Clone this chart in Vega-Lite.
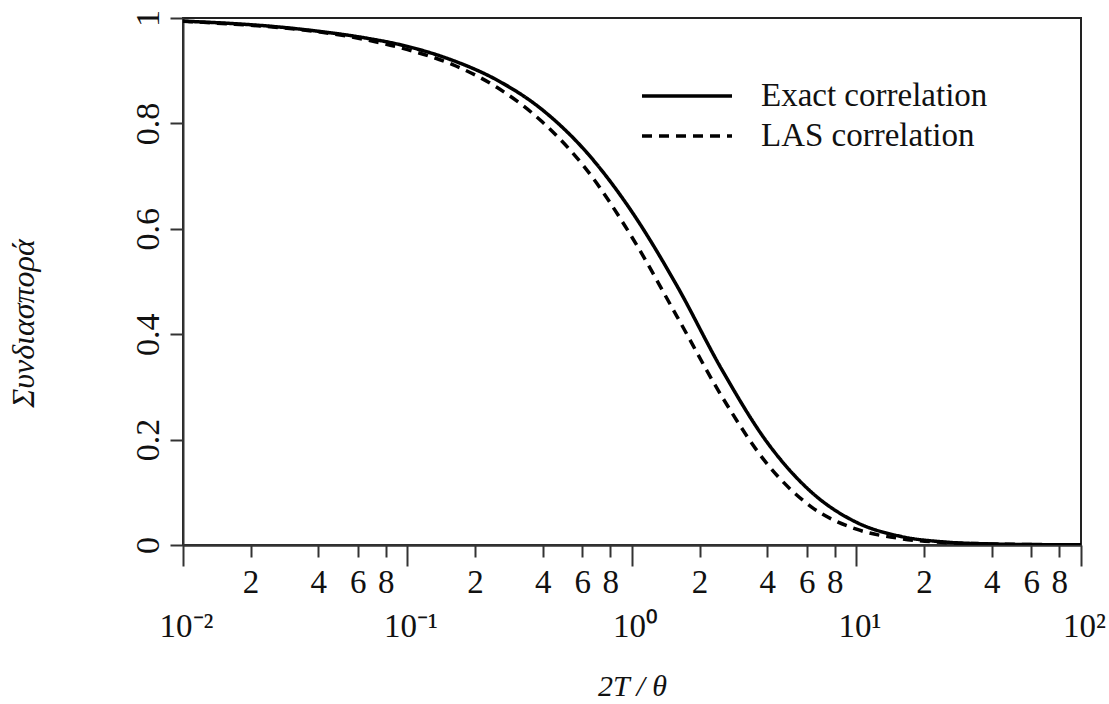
{
  "$schema": "https://vega.github.io/schema/vega-lite/v6.json",
  "width": 898,
  "height": 527,
  "autosize": {"type": "none"},
  "padding": {"left": 183, "top": 18, "right": 28, "bottom": 159},
  "background": "white",
  "config": {
    "view": {"stroke": "#222", "strokeWidth": 2},
    "font": "Liberation Serif",
    "axis": {
      "domainColor": "#333",
      "domainWidth": 2,
      "tickColor": "#333",
      "tickWidth": 2,
      "grid": false,
      "labelFont": "Liberation Serif",
      "labelColor": "#111",
      "titleFont": "Liberation Serif",
      "titleColor": "#111",
      "titleFontWeight": "normal"
    },
    "legend": {
      "labelFont": "Liberation Serif",
      "labelFontSize": 33,
      "labelColor": "#111"
    }
  },
  "data": {
    "values": [
      {"x": 0.01, "y": 0.994, "series": "Exact correlation"},
      {"x": 0.0158, "y": 0.99, "series": "Exact correlation"},
      {"x": 0.0251, "y": 0.984, "series": "Exact correlation"},
      {"x": 0.0398, "y": 0.975, "series": "Exact correlation"},
      {"x": 0.0631, "y": 0.963, "series": "Exact correlation"},
      {"x": 0.1, "y": 0.946, "series": "Exact correlation"},
      {"x": 0.158, "y": 0.92, "series": "Exact correlation"},
      {"x": 0.251, "y": 0.882, "series": "Exact correlation"},
      {"x": 0.398, "y": 0.826, "series": "Exact correlation"},
      {"x": 0.631, "y": 0.744, "series": "Exact correlation"},
      {"x": 1.0, "y": 0.632, "series": "Exact correlation"},
      {"x": 1.585, "y": 0.492, "series": "Exact correlation"},
      {"x": 2.512, "y": 0.333, "series": "Exact correlation"},
      {"x": 3.981, "y": 0.196, "series": "Exact correlation"},
      {"x": 6.31, "y": 0.1, "series": "Exact correlation"},
      {"x": 10, "y": 0.043, "series": "Exact correlation"},
      {"x": 15.85, "y": 0.016, "series": "Exact correlation"},
      {"x": 25.12, "y": 0.0055, "series": "Exact correlation"},
      {"x": 39.81, "y": 0.002, "series": "Exact correlation"},
      {"x": 63.1, "y": 0.0008, "series": "Exact correlation"},
      {"x": 100, "y": 0.0004, "series": "Exact correlation"},
      {"x": 0.01, "y": 0.994, "series": "LAS correlation"},
      {"x": 0.0158, "y": 0.989, "series": "LAS correlation"},
      {"x": 0.0251, "y": 0.983, "series": "LAS correlation"},
      {"x": 0.0398, "y": 0.974, "series": "LAS correlation"},
      {"x": 0.0631, "y": 0.96, "series": "LAS correlation"},
      {"x": 0.1, "y": 0.94, "series": "LAS correlation"},
      {"x": 0.158, "y": 0.912, "series": "LAS correlation"},
      {"x": 0.251, "y": 0.868, "series": "LAS correlation"},
      {"x": 0.398, "y": 0.803, "series": "LAS correlation"},
      {"x": 0.631, "y": 0.711, "series": "LAS correlation"},
      {"x": 1.0, "y": 0.584, "series": "LAS correlation"},
      {"x": 1.585, "y": 0.434, "series": "LAS correlation"},
      {"x": 2.512, "y": 0.282, "series": "LAS correlation"},
      {"x": 3.981, "y": 0.155, "series": "LAS correlation"},
      {"x": 6.31, "y": 0.072, "series": "LAS correlation"},
      {"x": 10, "y": 0.03, "series": "LAS correlation"},
      {"x": 15.85, "y": 0.012, "series": "LAS correlation"},
      {"x": 25.12, "y": 0.0045, "series": "LAS correlation"},
      {"x": 39.81, "y": 0.0018, "series": "LAS correlation"},
      {"x": 63.1, "y": 0.0007, "series": "LAS correlation"},
      {"x": 100, "y": 0.0003, "series": "LAS correlation"}
    ]
  },
  "layer": [
    {
      "mark": {"type": "line", "color": "black", "strokeWidth": 3.5, "interpolate": "monotone", "clip": true},
      "encoding": {
        "x": {
          "field": "x", "type": "quantitative",
          "scale": {"type": "log", "domain": [0.01, 100], "nice": false},
          "axis": {
            "orient": "bottom",
            "values": [0.02, 0.04, 0.06, 0.08, 0.2, 0.4, 0.6, 0.8, 2, 4, 6, 8, 20, 40, 60, 80],
            "labelExpr": "'' + round(datum.value / pow(10, floor(log(datum.value) / LN10 + 0.000001)))",
            "tickSize": 12,
            "labelPadding": 9,
            "labelFontSize": 33,
            "labelBaseline": "top",
            "labelFlush": false,
            "labelOverlap": false,
            "title": "2T / θ",
            "titleFontSize": 30,
            "titleFontStyle": "italic",
            "titleX": 449,
            "titleY": 141,
            "titleBaseline": "middle",
            "titleAlign": "center"
          }
        },
        "y": {
          "field": "y", "type": "quantitative",
          "scale": {"domain": [0, 1], "nice": false},
          "axis": {
            "values": [0, 0.2, 0.4, 0.6, 0.8, 1],
            "labelExpr": "'' + datum.value",
            "tickSize": 13,
            "labelAngle": 270,
            "labelAlign": "center",
            "labelBaseline": "alphabetic",
            "labelPadding": 12,
            "labelFontSize": 34,
            "labelFlush": false,
            "labelOverlap": false,
            "title": "Συνδιασπορά",
            "titleFontSize": 32,
            "titleFontStyle": "italic",
            "titleAngle": 270,
            "titleX": -160,
            "titleY": 305,
            "titleAlign": "center",
            "titleBaseline": "middle"
          }
        },
        "strokeDash": {
          "field": "series", "type": "nominal",
          "scale": {"domain": ["Exact correlation", "LAS correlation"], "range": [[1, 0], [10, 7]]},
          "legend": {
            "orient": "none",
            "legendX": 457,
            "legendY": 58,
            "title": null,
            "padding": 0,
            "symbolType": "stroke",
            "symbolSize": 8100,
            "symbolStrokeWidth": 3.5,
            "symbolStrokeColor": "black",
            "clipHeight": 40,
            "labelFontSize": 33,
            "labelFont": "Liberation Serif",
            "labelColor": "#111",
            "labelLimit": 500,
            "labelOffset": 27,
            "rowPadding": 0
          }
        }
      }
    },
    {
      "mark": {"type": "rule", "opacity": 0},
      "encoding": {
        "x": {
          "field": "x", "type": "quantitative",
          "axis": {
            "orient": "bottom",
            "values": [0.01, 0.1, 1, 10, 100],
            "labelExpr": "datum.value == 0.01 ? '10⁻²' : datum.value == 0.1 ? '10⁻¹' : datum.value == 1 ? '10⁰' : datum.value == 10 ? '10¹' : '10²'",
            "tickSize": 21,
            "labelPadding": 44,
            "labelFontSize": 33,
            "labelBaseline": "top",
            "labelAlign": "center",
            "labelOffset": 3,
            "labelFlush": false,
            "labelOverlap": false,
            "title": null
          }
        }
      }
    }
  ],
  "resolve": {"axis": {"x": "independent"}}
}
